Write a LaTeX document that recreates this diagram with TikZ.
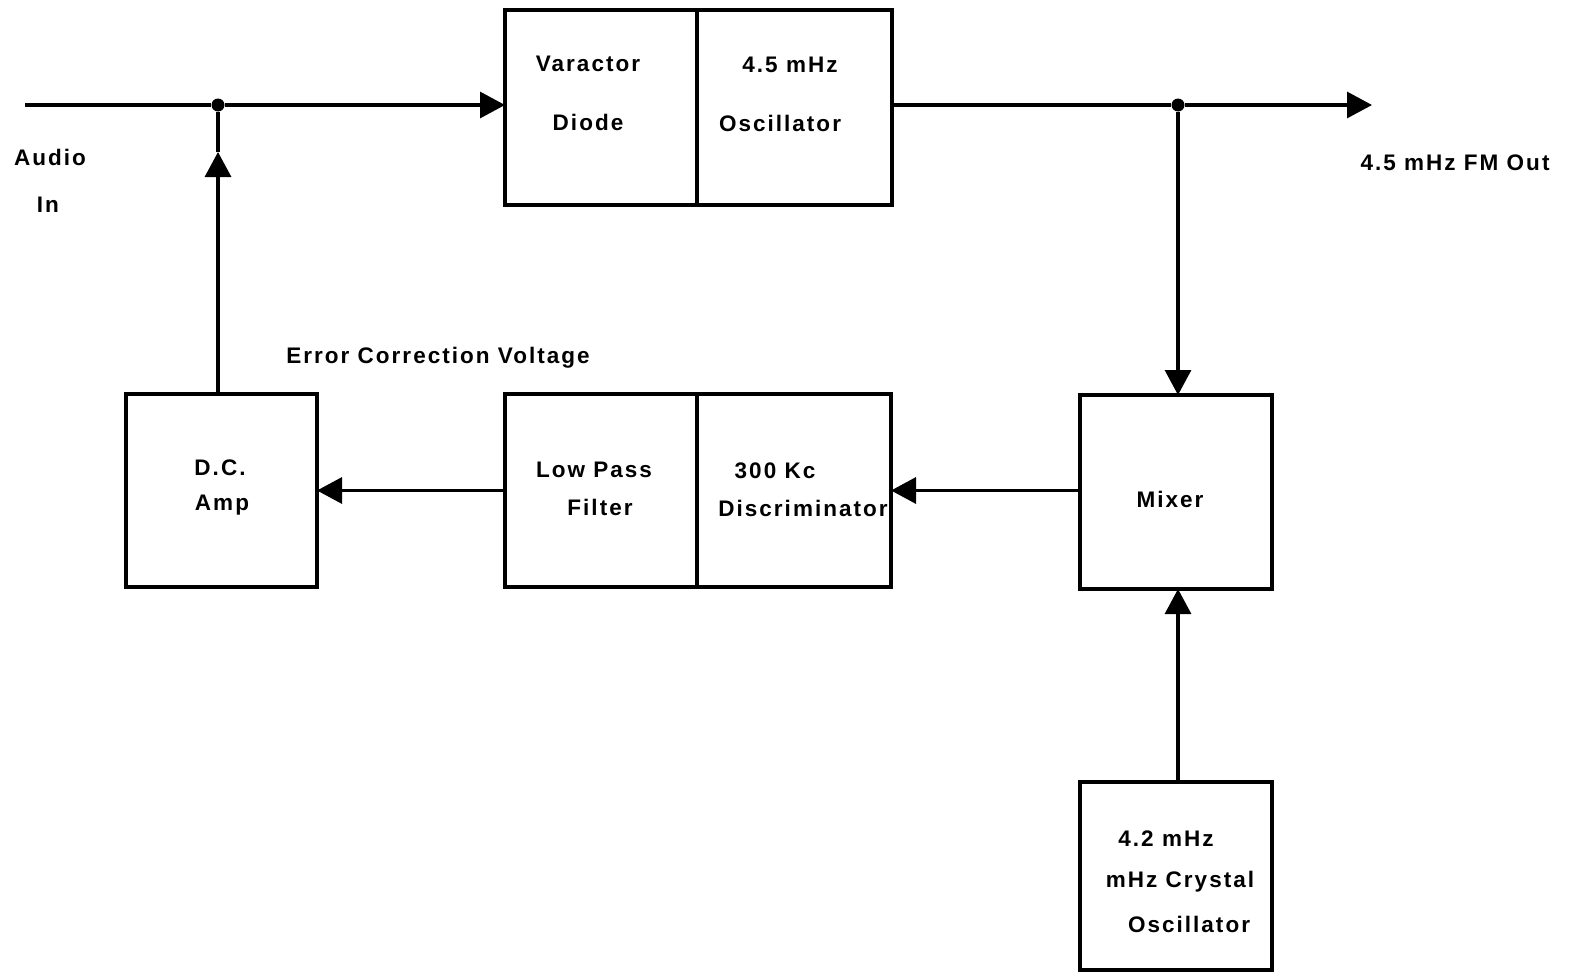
\documentclass[tikz,border=0pt]{standalone}
\usepackage{fontspec}
\newfontfamily\lblfont[LetterSpace=9]{Liberation Sans Bold}
\usetikzlibrary{arrows.meta}
\begin{document}
\begin{tikzpicture}[x=1pt,y=-1pt,
  wire/.style={line width=3.2pt},
  arr/.style={wire,-{Triangle[length=25pt,width=26pt]}},
  blk/.style={draw,line width=3.2pt,rectangle,inner sep=0pt,outer sep=0pt},
  lbl/.style={font=\lblfont\fontsize{22.5}{24}\selectfont,inner sep=0pt,anchor=center},
  dot/.style={circle,fill,inner sep=0pt,minimum size=13pt}]
\useasboundingbox (0,0) rectangle (1574,977);
% boxes
\node[blk,minimum width=192pt,minimum height=195pt] (var) at (601,107.5) {};
\node[blk,minimum width=195pt,minimum height=195pt] (osc) at (794.5,107.5) {};
\node[blk,minimum width=191pt,minimum height=193pt] (dca) at (221.5,490.5) {};
\node[blk,minimum width=192pt,minimum height=193pt] (lpf) at (601,490.5) {};
\node[blk,minimum width=194pt,minimum height=193pt] (disc) at (794,490.5) {};
\node[blk,minimum width=192pt,minimum height=194pt] (mix) at (1176,492) {};
\node[blk,minimum width=192pt,minimum height=188pt] (xtal) at (1176,876) {};
% labels
\node[lbl] (tvar1) at (588,64) {Varactor};
\node[lbl] (tvar2) at (588,122) {Diode};
\node[lbl] (tosc1) at (790,65) {4.5 mHz};
\node[lbl] (tosc2) at (780,123) {Oscillator};
\node[lbl] (taud1) at (50,157) {Audio};
\node[lbl] (taud2) at (48,205) {In};
\node[lbl] (tout) at (1455,163) {4.5 mHz FM Out};
\node[lbl] (terr) at (438,358) {Error Correction Voltage};
\node[lbl] (tdc1) at (220,468) {D.C.};
\node[lbl] (tdc2) at (222,505) {Amp};
\node[lbl] (tlp1) at (594,470) {Low Pass};
\node[lbl] (tlp2) at (600,507) {Filter};
\node[lbl] (tdi1) at (775,471) {300 Kc};
\node[lbl] (tdi2) at (803,508) {Discriminator};
\node[lbl] (tmix) at (1170,499) {Mixer};
\node[lbl] (txt1) at (1166,839) {4.2 mHz};
\node[lbl] (txt2) at (1180,882) {mHz Crystal};
\node[lbl] (txt3) at (1189,924) {Oscillator};
% junctions and free ends
\node[dot] (j1) at (218,105) {};
\node[dot] (j2) at (1178,105) {};
\coordinate (in) at (25,105);
\coordinate (out) at (1372,105);
\coordinate (mid) at (218,152);
% connectors
\draw[wire] (in) -- (j1);
\draw[arr] (j1) -- (j1 -| var.west);
\draw[wire] (osc.east |- j2) -- (j2);
\draw[arr] (j2) -- (out);
\draw[arr] (j2) -- (j2 |- mix.north);
\draw[arr] (j1 |- dca.north) -- (mid);
\draw[wire] (mid) -- (j1);
\draw[arr] (lpf.west) -- (dca.east);
\draw[arr] (mix.west |- disc.east) -- (disc.east);
\draw[arr] (j2 |- xtal.north) -- (j2 |- mix.south);
\end{tikzpicture}
\end{document}
